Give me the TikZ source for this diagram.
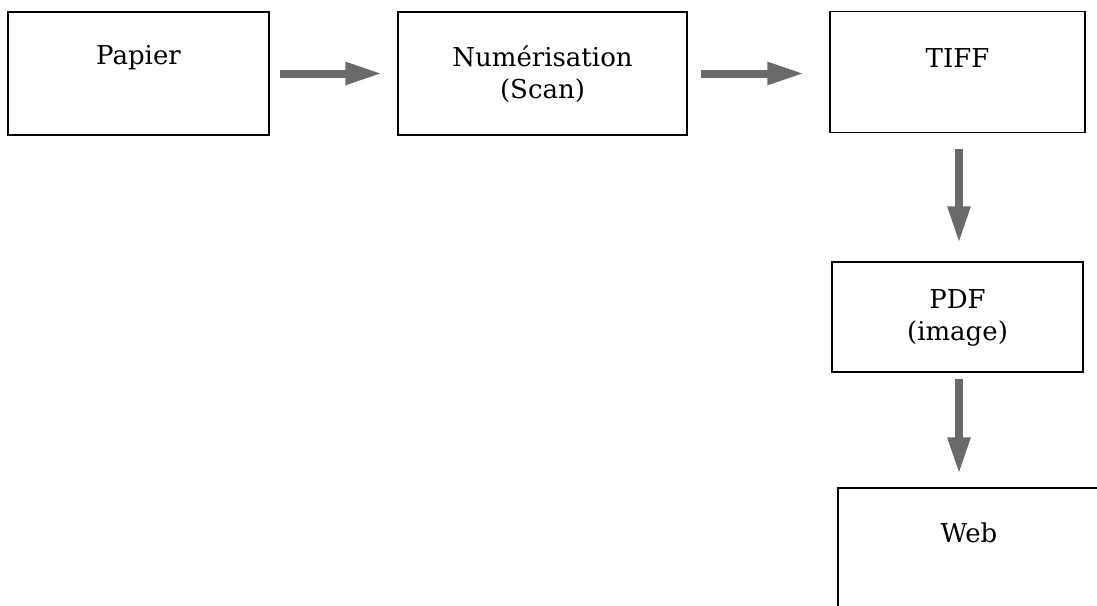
\documentclass[tikz,border=0pt]{standalone}
\usepackage{fontspec}
\setmainfont{DejaVu Serif}
\usetikzlibrary{arrows.meta}
\definecolor{arrowgray}{HTML}{6A6A6A}
\begin{document}
\begin{tikzpicture}[x=1pt,y=-1pt,
  box/.style={draw=black,line width=1.2pt,inner sep=0pt,fill=none},
  lbl/.style={font=\fontsize{26}{32}\selectfont,align=center,inner sep=0pt,anchor=center},
  flow/.style={draw=arrowgray,line width=8pt,-{Triangle[length=37pt,width=21pt]}}]
\useasboundingbox (0,0) rectangle (1097,605);
\clip (0,0) rectangle (1097,605);
\node[box,minimum width=261pt,minimum height=123pt] (papier) at (138.5,73.5) {};
\node[box,minimum width=289pt,minimum height=123pt] (num) at (542.5,73.5) {};
\node[box,minimum width=255pt,minimum height=121pt] (tiff) at (957.5,72) {};
\node[box,minimum width=251pt,minimum height=110pt] (pdf) at (957.5,317) {};
\node[box,minimum width=280pt,minimum height=140pt] (web) at (978,558) {};
\node[lbl] (tpapier) at (138.5,58) {Papier};
\node[lbl] (tnum) at (542.5,74) {Numérisation\\(Scan)};
\node[lbl] (ttiff) at (957.5,58) {TIFF};
\node[lbl] (tpdf) at (957.5,318) {PDF\\(image)};
\node[lbl] (tweb) at (969,533) {Web};
\draw[flow,shorten <=10pt,shorten >=15pt] (papier.east) -- (num.west);
\draw[flow,shorten <=13pt,shorten >=25pt] (num.east) -- (num.east -| tiff.west);
\draw[flow,shorten <=16pt,shorten >=18pt] ([xshift=1.5pt]tiff.south) -- ([xshift=1.5pt]pdf.north);
\draw[flow,shorten <=6pt,shorten >=13pt] ([xshift=1.5pt]pdf.south) -- ([xshift=1.5pt]pdf.south |- web.north);
\end{tikzpicture}
\end{document}
